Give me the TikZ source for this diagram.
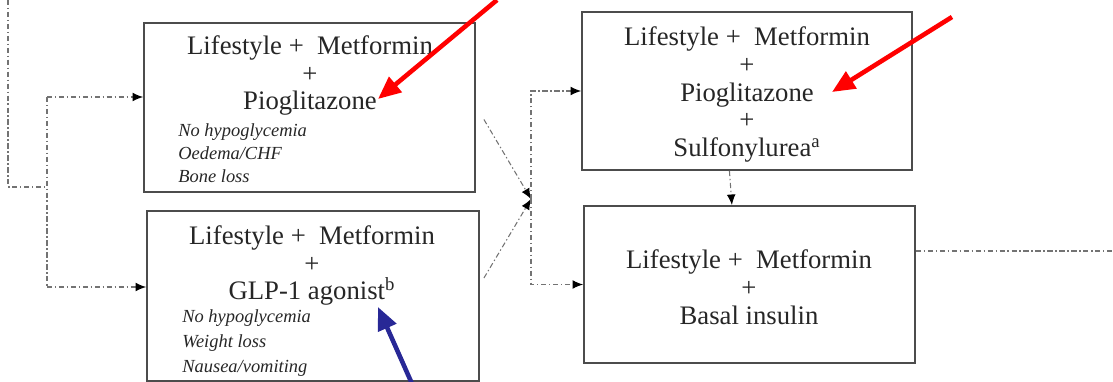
\documentclass[tikz,border=0pt]{standalone}
\usepackage{fontspec}
\setmainfont{Liberation Serif}
\usetikzlibrary{positioning, calc, arrows.meta}
\definecolor{arrowblue}{RGB}{40,40,150}
\newcommand{\LifeMet}{Lifestyle +~ Metformin}

\tikzset{
  box/.style={draw=black!70, line width=1.1pt, inner sep=0pt},
  drug/.style={align=center, text=black!85, font=\fontsize{15.2}{15.9}\selectfont, inner sep=0pt},
  effect/.style={align=left, anchor=west, text=black!85, font=\fontsize{10.5}{13}\selectfont\itshape, inner sep=0pt},
  link/.style={draw=black!55, line width=0.6pt, dash pattern=on 3pt off 1.5pt on 0.8pt off 1.5pt},
  tolink/.style={link, -{Latex[length=6pt,width=5pt,black]}},
  hint/.style={line width=2.6pt, -{Triangle[length=13pt,width=11pt]}}
}

\begin{document}
\begin{tikzpicture}[x=0.02cm, y=-0.02cm]
      \useasboundingbox (0,0) rectangle (1113,382);

      \node[box, minimum width=6.62cm, minimum height=3.38cm] (LMP) at (309.5,107.5) {};
      \node[box, minimum width=6.64cm, minimum height=3.40cm] (LMG) at (313,296) {};
      \node[box, minimum width=6.60cm, minimum height=3.16cm] (LMPS) at (747,91) {};
      \node[box, minimum width=6.62cm, minimum height=3.14cm] (LMB) at (749.5,284.5) {};

      \node[drug] (LMP1) at (310,75.5) {\LifeMet\\+\\Pioglitazone};
      \node[effect] (LMP2) at (178,153) {No hypoglycemia\\Oedema/CHF\\Bone loss};

      \node[drug] (LMG1) at (312,265.5) {\LifeMet\\+\\GLP-1 agonist\textsuperscript{b}};
      \node[effect, font=\fontsize{10.5}{14}\selectfont\itshape] (LMG2) at (182,343) {No hypoglycemia\\Weight loss\\Nausea/vomiting};

      \node[drug] (LMPS1) at (747,94.5) {\LifeMet\\+\\Pioglitazone\\+\\Sulfonylurea\textsuperscript{a}};
      \node[drug] (LMB1) at (749,287) {\LifeMet\\+\\Basal insulin};

      \coordinate (in0) at (8,0);
      \coordinate (in1) at (47,187);
      \coordinate (sp1) at (47,97);
      \coordinate (sp2) at (47,287);
      \coordinate (jn) at (531,199);
      \coordinate (out) at (1113,251);

      \draw[link] (in0) |- (in1);
      \draw[link] (sp1) -- (sp2);
      \draw[tolink] (sp1) -- (sp1 -| LMP.west);
      \draw[tolink] (sp2) -- (sp2 -| LMG.west);

      \draw[tolink] ([shift={(8,12)}]node cs:name=LMP, anchor=east) -- (jn);
      \draw[tolink] ([shift={(4,-18)}]node cs:name=LMG, anchor=east) -- (jn);
      \draw[tolink] (jn) |- (node cs:name=LMPS, anchor=west);
      \draw[tolink] (jn) |- (node cs:name=LMB, anchor=west);
      \draw[tolink] ([xshift=-10]LMPS.south) -- ([xshift=-10]LMB.north);
      \draw[link] (LMB.east |- out) -- (out);

      \coordinate (r1s) at (497,0);
      \coordinate (r1e) at (378,99);
      \coordinate (r2s) at (952,17);
      \coordinate (r2e) at (832,92);
      \coordinate (b1s) at (413,386);
      \coordinate (b1e) at (378,307);

      \draw[hint, red] (r1s) -- (r1e);
      \draw[hint, red] (r2s) -- (r2e);
      \draw[hint, arrowblue] (b1s) -- (b1e);
    \end{tikzpicture}
\end{document}
